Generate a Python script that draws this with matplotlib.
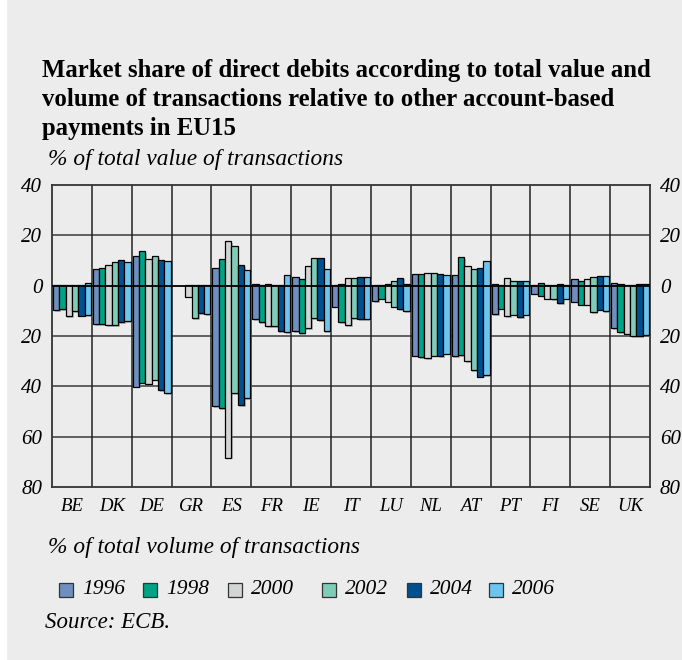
# Market share of direct debits (value vs volume), EU15 - mirrored bar chart
import numpy as np
import matplotlib
matplotlib.use("Agg")
import matplotlib.pyplot as plt
import matplotlib.patheffects as pe
from matplotlib.patches import Rectangle

countries = ["BE", "DK", "DE", "GR", "ES", "FR", "IE", "IT", "LU", "NL", "AT", "PT", "FI", "SE", "UK"]
years = ["1996", "1998", "2000", "2002", "2004", "2006"]

# % of total value of transactions (drawn upward)
val_1996 = [0.2, 6.8, 11.6, np.nan, 6.9, 0.7, 3.5, 0.3, 0.2, 4.8, 4.1, 0.7, 0.2, 2.7, 1.1]
val_1998 = [0.3, 7.2, 13.6, np.nan, 10.4, 0.3, 2.8, 0.8, 0.4, 4.8, 11.2, 0.3, 1.1, 1.9, 0.8]
val_2000 = [0.2, 8.4, 10.5, 0.3, 17.6, 0.7, 7.9, 2.9, 0.7, 5.2, 7.9, 3.1, 0.4, 2.7, 0.4]
val_2002 = [0.3, 9.5, 11.6, 0.3, 15.6, 0.4, 10.8, 3.2, 2.0, 5.1, 6.5, 1.9, 0.4, 3.6, 0.4]
val_2004 = [0.4, 10.1, 10.3, 0.3, 8.1, 0.4, 10.8, 3.6, 3.2, 4.7, 7.2, 2.0, 0.5, 3.9, 0.8]
val_2006 = [1.2, 9.5, 10.0, 0.3, 6.1, 4.3, 6.8, 3.3, 0.8, 4.3, 10.0, 1.7, 0.4, 3.9, 0.8]

# % of total volume of transactions (drawn downward)
vol_1996 = [9.7, 15.2, 40.1, np.nan, 47.8, 13.2, 18.1, 8.4, 6.1, 27.8, 28.0, 11.3, 3.2, 6.4, 16.9]
vol_1998 = [9.3, 15.2, 38.6, np.nan, 48.7, 14.4, 18.8, 14.4, 5.1, 28.4, 27.6, 9.2, 4.0, 7.5, 18.5]
vol_2000 = [12.0, 15.8, 38.9, 4.4, 68.3, 16.2, 17.0, 15.8, 6.4, 28.9, 30.0, 12.0, 5.1, 7.6, 19.4]
vol_2002 = [10.0, 15.8, 37.4, 12.8, 42.7, 16.2, 12.8, 12.8, 8.4, 27.8, 33.6, 11.5, 5.3, 10.4, 20.1]
vol_2004 = [11.9, 14.5, 41.5, 10.8, 47.4, 18.1, 13.6, 13.2, 9.3, 28.0, 36.1, 12.6, 6.9, 9.6, 20.0]
vol_2006 = [11.6, 14.2, 42.7, 11.2, 44.6, 18.4, 18.1, 13.4, 10.1, 27.0, 35.6, 11.5, 5.2, 10.1, 19.8]

values = [val_1996, val_1998, val_2000, val_2002, val_2004, val_2006]
volumes = [vol_1996, vol_1998, vol_2000, vol_2002, vol_2004, vol_2006]
colors = ["#6f8fbf", "#00a383", "#d3d5d5", "#7fcdb8", "#00508f", "#6cc5ee"]

BG = "#ececec"
plt.rcParams["font.family"] = ["Liberation Serif", "DejaVu Serif"]

W, H = 682, 660
fig = plt.figure(figsize=(W / 100, H / 100), dpi=100, facecolor=BG)
fig.add_artist(Rectangle((0, 0), 6 / W, 1, transform=fig.transFigure, color="white", zorder=-5))

def fx(px):
    return px / W

def fy(py):
    return 1 - py / H

ax = fig.add_axes([fx(52), fy(487), fx(650) - fx(52), fy(185) - fy(487)])
ax.set_facecolor(BG)

x = np.arange(len(countries))
group = 0.95
w = group / len(years)
shadow = [pe.SimplePatchShadow(offset=(1.2, -1.2), shadow_rgbFace="0.45", alpha=0.45), pe.Normal()]
for j, (val, vol) in enumerate(zip(values, volumes)):
    val = np.array(val, dtype=float)
    vol = np.array(vol, dtype=float)
    pos = x - group / 2 + (j + 0.5) * w
    bars = ax.bar(pos, val + vol, bottom=-vol, width=w, color=colors[j],
                  edgecolor="black", linewidth=0.9, zorder=3)
    for b in bars:
        b.set_path_effects(shadow)

ax.set_xlim(-0.5, len(countries) - 0.5)
ax.set_ylim(-80, 40)

# grid
for yv in [20, -20, -40, -60]:
    ax.axhline(yv, color="#555555", lw=1.3, zorder=1)
for i in range(len(countries) - 1):
    ax.axvline(i + 0.5, color="#222222", lw=1.1, zorder=1)
ax.axhline(0, color="black", lw=1.3, zorder=4)
for s in ax.spines.values():
    s.set_color("#333333")
    s.set_linewidth(1.3)

yt = [40, 20, 0, -20, -40, -60, -80]
ax.set_yticks(yt)
ax.set_yticklabels([str(abs(v)) for v in yt])
ax.set_xticks(x)
ax.set_xticklabels(countries)
ax.tick_params(axis="x", length=0, labelsize=13.5, pad=8)
ax.tick_params(axis="y", length=0, labelsize=15, pad=7, labelright=True)
for t in ax.xaxis.get_major_ticks():
    t.label1.set_fontstyle("italic")
for t in ax.yaxis.get_major_ticks():
    t.label1.set_fontstyle("italic")
    t.label2.set_fontstyle("italic")

# texts
title_lines = ["Market share of direct debits according to total value and",
               "volume of transactions relative to other account-based",
               "payments in EU15"]
for k, line in enumerate(title_lines):
    fig.text(fx(42), fy(77 + 29 * k), line, ha="left", va="baseline",
             fontsize=17.8, fontweight="bold")
fig.text(fx(48), fy(160), "% of total value of transactions", ha="left", va="center",
         fontsize=16.8, fontstyle="italic")
fig.text(fx(48), fy(548), "% of total volume of transactions", ha="left", va="center",
         fontsize=16.8, fontstyle="italic")
fig.text(fx(45), fy(623), "Source: ECB.", ha="left", va="center", fontsize=16.5, fontstyle="italic")

# legend
sq_x = [59, 143, 228, 322, 407, 489]
for j, yr in enumerate(years):
    fig.add_artist(Rectangle((fx(sq_x[j]), fy(597)), 14 / W, 14 / H, transform=fig.transFigure,
                             facecolor=colors[j], edgecolor="#333333", linewidth=0.9))
    fig.text(fx(sq_x[j] + 23), fy(590), yr, ha="left", va="center", fontsize=15.5,
             fontstyle="italic")

fig.savefig("out.png", dpi=100, facecolor=BG)
